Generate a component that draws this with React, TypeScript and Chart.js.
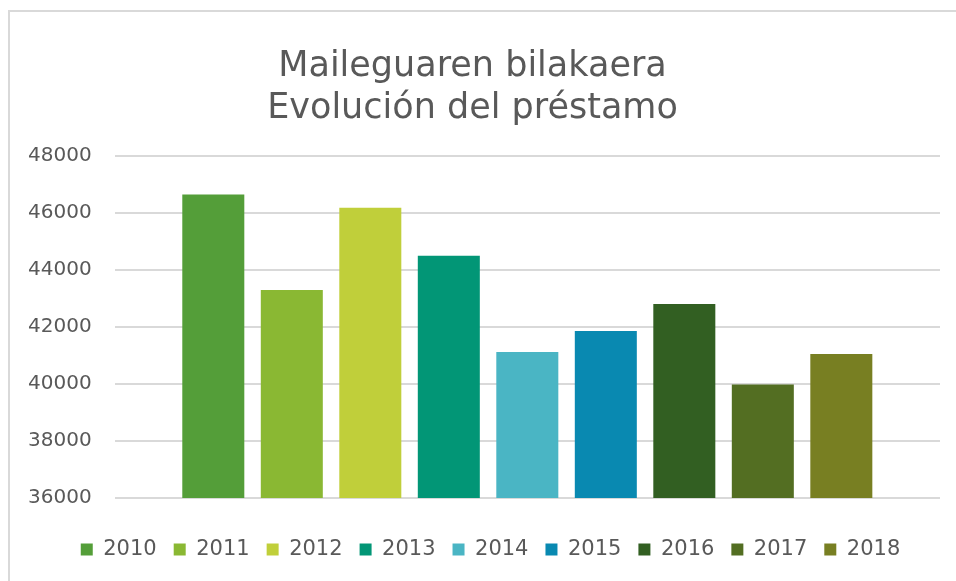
import React, { useEffect, useRef } from "react";
import { Chart, registerables } from "chart.js";

Chart.register(...registerables);

const years = ["2010", "2011", "2012", "2013", "2014", "2015", "2016", "2017", "2018"];
const loanValues = [46650, 43300, 46180, 44500, 41120, 41860, 42810, 39980, 41050];
const barColors = [
  "#549E39",
  "#8AB833",
  "#C0CF3A",
  "#029676",
  "#4AB5C4",
  "#0989B1",
  "#325F22",
  "#536E22",
  "#787F22",
];
const yTicks = [36000, 38000, 40000, 42000, 44000, 46000, 48000];
const titleLines = ["Maileguaren bilakaera", "Evolución del préstamo"];

const FONT = "'DejaVu Sans', sans-serif";
const TEXT = "#595959";

const legendShift = {
  id: "legendShift",
  afterLayout(chart: any) {
    const lg = chart.legend;
    if (lg) {
      lg.left += 18;
      lg.right += 18;
      if (lg.adjustHitBoxes) lg.adjustHitBoxes();
    }
  },
};

export default function App() {
  const ref = useRef<HTMLCanvasElement | null>(null);

  useEffect(() => {
    if (!ref.current) return;
    const chart = new Chart(ref.current, {
      type: "bar",
      data: {
        labels: [""],
        datasets: years.map((y, i) => ({
          label: y,
          data: [loanValues[i]],
          backgroundColor: barColors[i],
          borderWidth: 0,
          categoryPercentage: 0.856,
          barPercentage: 0.79,
        })),
      },
      plugins: [legendShift],
      options: {
        animation: false,
        responsive: false,
        maintainAspectRatio: false,
        layout: { padding: { left: 5, right: 16, top: 46, bottom: 11 } },
        plugins: {
          title: {
            display: true,
            text: titleLines,
            color: TEXT,
            font: { family: FONT, size: 35, weight: "normal", lineHeight: 1.2 },
            padding: { top: 0, bottom: 26 },
          },
          legend: {
            display: true,
            position: "bottom",
            labels: {
              color: TEXT,
              font: { family: FONT, size: 21 },
              boxWidth: 12,
              boxHeight: 12,
              padding: 17,
            },
          },
          tooltip: { enabled: false },
        },
        scales: {
          x: {
            grid: { display: false },
            border: { display: false },
            ticks: { display: false },
            title: {
              display: true,
              text: " ",
              font: { size: 1, lineHeight: 1 },
              padding: { top: 15, bottom: 0 },
            },
          },
          y: {
            min: yTicks[0],
            max: yTicks[yTicks.length - 1],
            afterBuildTicks: (axis: any) => {
              axis.ticks = yTicks.map((v) => ({ value: v }));
            },
            grid: { color: "#d9d9d9", lineWidth: 2, drawTicks: false },
            border: { display: false },
            ticks: {
              color: TEXT,
              font: { family: FONT, size: 20 },
              padding: 23,
              callback: (v: any) => String(v),
            },
          },
        },
      },
    });
    return () => chart.destroy();
  }, []);

  return (
    <div>
      <div
        style={{
          position: "fixed",
          left: 8,
          top: 10,
          width: 948,
          height: 571,
          boxSizing: "border-box",
          borderLeft: "2px solid #d9d9d9",
          borderTop: "2px solid #d9d9d9",
        }}
      />
      <canvas
        ref={ref}
        width={956}
        height={581}
        style={{ position: "fixed", left: 0, top: 0, width: 956, height: 581 }}
      />
    </div>
  );
}
